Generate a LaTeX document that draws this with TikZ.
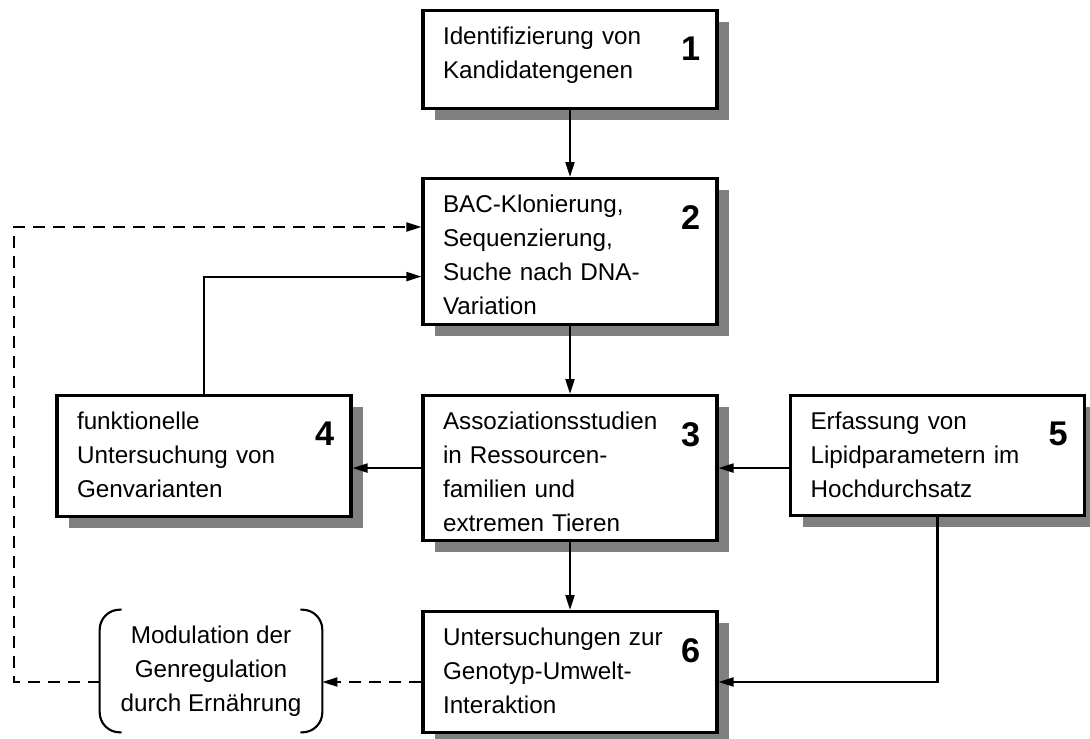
\documentclass[tikz,border=0pt]{standalone}
\usepackage{fontspec}
\setmainfont{Liberation Sans}
\usepackage{tikz}
\usetikzlibrary{
    arrows.meta,
    shadows
}
\tikzset{
    box/.style={draw, line width=1.8pt, fill=white, anchor=north,
        inner xsep=0.4cm, inner ysep=0pt, text width=5.08cm, align=left,
        text height=0.68cm, font=\fontsize{13.8}{19.3}\selectfont,
        general shadow={fill=gray, shadow xshift=0.24cm, shadow yshift=-0.23cm}},
    num/.style={anchor=north east, inner sep=0pt,
        font=\fontsize{19.5}{19.5}\selectfont\bfseries},
    modbox/.style={align=center, inner sep=0pt, minimum width=4.44cm,
        minimum height=2.44cm, font=\fontsize{13.8}{19.3}\selectfont},
    bracket/.style={line width=1.2pt, rounded corners=0.4cm},
    arr/.style={line width=1.2pt, -{Triangle[length=0.3cm,width=0.18cm]}},
    dashline/.style={line width=1.2pt, dash pattern=on 0.24cm off 0.16cm},
    dasharr/.style={arr, dashline}
}
\begin{document}
\begin{tikzpicture}[x=0.02cm, y=-0.02cm]
    \useasboundingbox (0,0) rectangle (1090,738);
    \node[box, text depth=1.28cm] (b1) at (570,9) {Identifizierung von\\Kandidatengenen};
    \node[box, text depth=2.24cm] (b2) at (570,177) {BAC-Klonierung,\\Sequenzierung,\\Suche nach DNA-\\Variation};
    \node[box, text depth=2.22cm] (b3) at (570,394) {Assoziationsstudien\\in Ressourcen-\\familien und\\extremen Tieren};
    \node[box, text depth=1.74cm] (b4) at (204,394) {funktionelle\\Untersuchung von\\Genvarianten};
    \node[box, text depth=1.72cm] (b5) at (937.5,394) {Erfassung von\\Lipidparametern im\\Hochdurchsatz};
    \node[box, text depth=1.74cm] (b6) at (570,610) {Untersuchungen zur\\Genotyp-Umwelt-\\Interaktion};
    \node[num] (n1) at ([shift={(-0.36cm,-0.56cm)}]b1.north east) {1};
    \node[num] (n2) at ([shift={(-0.36cm,-0.56cm)}]b2.north east) {2};
    \node[num] (n3) at ([shift={(-0.36cm,-0.56cm)}]b3.north east) {3};
    \node[num] (n4) at ([shift={(-0.36cm,-0.56cm)}]b4.north east) {4};
    \node[num] (n5) at ([shift={(-0.36cm,-0.56cm)}]b5.north east) {5};
    \node[num] (n6) at ([shift={(-0.36cm,-0.56cm)}]b6.north east) {6};
    \node[modbox] (mod) at (211,671) {Modulation der\\Genregulation\\durch Ern\"ahrung};
    \draw[bracket] ([xshift=0.44cm]mod.north west) -| (mod.south west) -- ++(22,0);
    \draw[bracket] ([xshift=-0.44cm]mod.north east) -| (mod.south east) -- ++(-22,0);
    \coordinate (loop) at (14,227);
    \coordinate (low) at (0,682);
    \draw[arr] (b1.south) -- (b2.north);
    \draw[arr] (b2.south) -- (b3.north);
    \draw[arr] (b3.south) -- (b6.north);
    \draw[arr] (b3.west) -- (b3.west -| b4.east);
    \draw[arr] (b5.west |- b3.east) -- (b3.east);
    \draw[arr] (b4.north) |- ([yshift=-0.5cm]b2.west);
    \draw[arr] (b5.south) |- (b6.east |- low);
    \draw[dasharr] (b6.west |- low) -- (mod.east |- low);
    \draw[dasharr] (mod.west |- low) -| (loop) -- (loop -| b2.west);
\end{tikzpicture}
\end{document}
